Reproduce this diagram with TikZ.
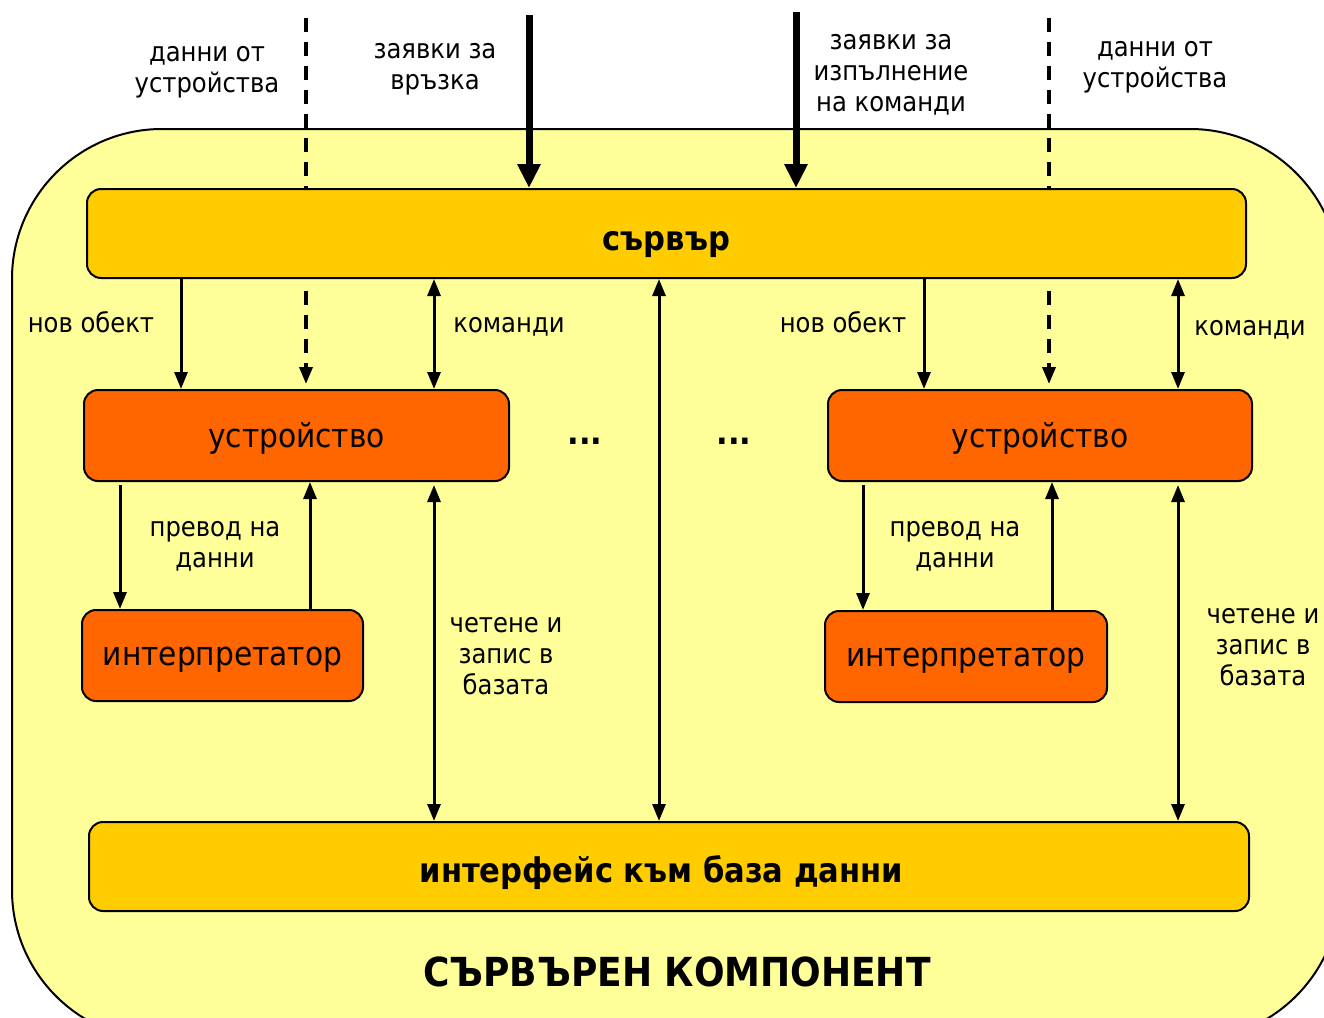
\documentclass[tikz,border=0pt]{standalone}
\usepackage{fontspec}
\setmainfont{DejaVu Sans Condensed}
\usetikzlibrary{arrows.meta}

\definecolor{compfill}{HTML}{FFFF99}
\definecolor{busfill}{HTML}{FFCC00}
\definecolor{unitfill}{HTML}{FF6600}

\tikzset{
  busbox/.style={draw=black, line width=2pt, fill=busfill, rounded corners=14pt,
    inner sep=0pt, text depth=0pt, font=\fontsize{34}{40}\selectfont\bfseries},
  unitbox/.style={draw=black, line width=2pt, fill=unitfill, rounded corners=14pt,
    inner sep=0pt, text depth=0pt, font=\fontsize{33}{38}\selectfont},
  lbl/.style={align=center, inner sep=0pt, font=\fontsize{27}{31}\selectfont},
  conn/.style={line width=3pt, -{Triangle[length=17pt,width=13pt]}},
  biconn/.style={line width=3pt, {Triangle[length=17pt,width=13pt]}-{Triangle[length=17pt,width=13pt]}},
  heavy/.style={line width=7pt, -{Triangle[length=24pt,width=22pt]}},
  dashline/.style={line width=3.5pt, dash pattern=on 14pt off 10pt},
}

\begin{document}
\begin{tikzpicture}[x=1pt,y=-1pt]
\useasboundingbox (0,0) rectangle (1324,1017);
\clip (0,0) rectangle (1324,1017);

% component frame
\draw[fill=compfill, line width=2pt, rounded corners=150pt] (12,129) rectangle (1340,1040);

% boxes
\node[busbox, minimum width=1159pt, minimum height=89pt, text height=33pt] (srv) at (666.5,233.5) {сървър};
\node[busbox, minimum width=1160pt, minimum height=89pt, text height=31pt] (db) at (669,866.5) {\hspace*{-15pt}интерфейс към база данни};
\node[unitbox, minimum width=425pt, minimum height=91pt, text height=23pt] (devL) at (296.5,435.5) {устройство};
\node[unitbox, minimum width=424pt, minimum height=91pt, text height=23pt] (devR) at (1040,435.5) {устройство};
\node[unitbox, minimum width=281pt, minimum height=91pt, text height=19pt] (intL) at (222.5,655.5) {интерпретатор};
\node[unitbox, minimum width=282pt, minimum height=91pt, text height=19pt] (intR) at (966,656.5) {интерпретатор};

% column positions
\coordinate (xa) at (181,0);
\coordinate (xb) at (306,18);
\coordinate (xc) at (434,0);
\coordinate (xd) at (659,0);
\coordinate (xe) at (924,0);
\coordinate (xf) at (1049,18);
\coordinate (xg) at (1178,0);
\coordinate (xh) at (120,0);
\coordinate (xi) at (310,0);
\coordinate (xj) at (863,0);
\coordinate (xk) at (1052,0);
\coordinate (qa) at (529,15);
\coordinate (qb) at (796,12);

% incoming requests
\draw[heavy] (qa) -- (qa |- srv.north);
\draw[heavy] (qb) -- (qb |- srv.north);

% device data feeds
\draw[dashline] (xb) -- (xb |- srv.north);
\draw[dashline] (xf) -- (xf |- srv.north);
\draw[dashline, -{Triangle[length=17pt,width=13pt]}, shorten <=12pt, shorten >=5pt] (xb |- srv.south) -- (xb |- devL.north);
\draw[dashline, -{Triangle[length=17pt,width=13pt]}, shorten <=12pt, shorten >=5pt] (xf |- srv.south) -- (xf |- devR.north);

% server to devices
\draw[conn] (xa |- srv.south) -- (xa |- devL.north);
\draw[conn] (xe |- srv.south) -- (xe |- devR.north);
\draw[biconn] (xc |- srv.south) -- (xc |- devL.north);
\draw[biconn] (xg |- srv.south) -- (xg |- devR.north);
\draw[biconn] (xd |- srv.south) -- (xd |- db.north);

% devices and interpreters
\draw[conn, shorten <=3pt] (xh |- devL.south) -- (xh |- intL.north);
\draw[conn] (xi |- intL.north) -- (xi |- devL.south);
\draw[conn, shorten <=3pt] (xj |- devR.south) -- (xj |- intR.north);
\draw[conn] (xk |- intR.north) -- (xk |- devR.south);

% database access
\draw[biconn, shorten <=3pt] (xc |- devL.south) -- (xc |- db.north);
\draw[biconn, shorten <=3pt] (xg |- devR.south) -- (xg |- db.north);

% labels
\node[lbl] (l1) at (207,72) {данни от\\устройства};
\node[lbl] (l2) at (435,69) {заявки за\\връзка};
\node[lbl] (l3) at (891,75) {заявки за\\изпълнение\\на команди};
\node[lbl] (l4) at (1155,67) {данни от\\устройства};
\node[lbl, anchor=base] (l5) at (91,332) {нов обект};
\node[lbl, anchor=base] (l6) at (509,332) {команди};
\node[lbl, anchor=base] (l7) at (843,332) {нов обект};
\node[lbl, anchor=base] (l8) at (1250,335) {команди};
\node[lbl] (l9) at (215,546) {превод на\\данни};
\node[lbl] (l10) at (955,546) {превод на\\данни};
\node[lbl] (l11) at (506,656) {четене и\\запис в\\базата};
\node[lbl] (l12) at (1263,647) {четене и\\запис в\\базата};
\node[anchor=base, font=\fontsize{34}{38}\selectfont\bfseries] (d1) at (585,444) {...};
\node[anchor=base, font=\fontsize{34}{38}\selectfont\bfseries] (d2) at (734,444) {...};

\node[anchor=base, font=\fontsize{40}{46}\selectfont\bfseries] (title) at (677,986) {СЪРВЪРЕН КОМПОНЕНТ};
\end{tikzpicture}
\end{document}
